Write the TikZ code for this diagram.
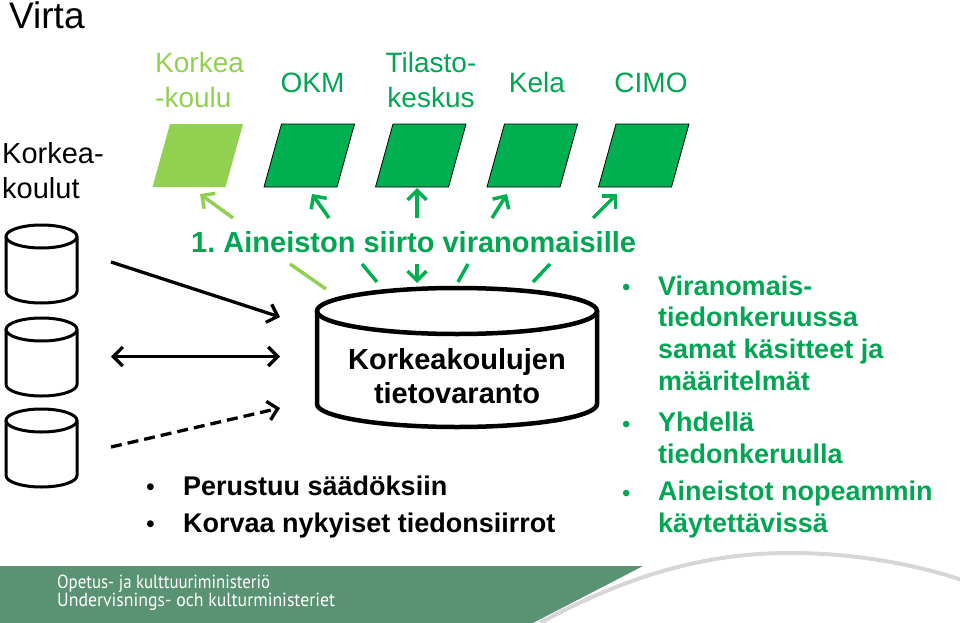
\documentclass[tikz,border=0pt]{standalone}
\usepackage{fontspec}
\setmainfont{Liberation Sans}
\newfontfamily\footfont{PT Sans}
\usetikzlibrary{arrows.meta}
\definecolor{lgreen}{RGB}{146,208,80}
\definecolor{dgreen}{RGB}{0,176,80}
\definecolor{tgreen}{RGB}{0,166,81}
\definecolor{footgreen}{RGB}{90,146,116}
\frenchspacing
\begin{document}
\begin{tikzpicture}[x=1pt,y=-1pt,
  txt/.style={inner sep=0pt, anchor=base west, align=left},
  ctxt/.style={inner sep=0pt, anchor=base, align=center},
  lbl/.style={font=\fontsize{28}{35}\selectfont, text=tgreen},
  bigbold/.style={font=\fontsize{27}{31.6}\selectfont\bfseries},
  para/.style={fill=dgreen, draw=black, line width=0.8pt, line join=miter},
  barb/.style={-{Straight Barb[length=9.5pt,width=19pt]}},
  garrow/.style={draw=dgreen, line width=3.5pt, barb},
  gline/.style={draw=dgreen, line width=3.5pt},
  karrow/.style={draw=black, line width=3.3pt},
  cyl/.style={draw=black, line width=3pt},
]
\useasboundingbox (0,0) rectangle (960,623);

% title and side label (base anchor = last line's baseline)
\node[txt, font=\fontsize{37}{42}\selectfont] (title) at (9,29) {Virta};
\node[txt, font=\fontsize{29}{35}\selectfont] (hei) at (2,198) {Korkea-\\koulut};

% column labels
\node[txt, lbl, text=lgreen] (lab1) at (155,108) {Korkea\\-koulu};
\node[ctxt, lbl] (lab2) at (312.5,93) {OKM};
\node[ctxt, lbl] (lab3) at (431,108) {Tilasto-\\keskus};
\node[ctxt, lbl] (lab4) at (537,93) {Kela};
\node[ctxt, lbl] (lab5) at (651,93) {CIMO};

% parallelograms
\fill[lgreen] (170,124) -- (243,124) -- (225.5,187) -- (152.5,187) -- cycle;
\foreach \i in {1,2,3,4}{
  \path[para] ({170+111.5*\i},124) -- ({243+111.5*\i},124) -- ({225.5+111.5*\i},187) -- ({152.5+111.5*\i},187) -- cycle;
}

% transfer text
\node[txt, font=\fontsize{29}{34}\selectfont\bfseries, text=tgreen] (transfer) at (191,252) {1. Aineiston siirto viranomaisille};

% arrow end points
\coordinate (u1s) at (233,218); \coordinate (u1e) at (200,194);
\coordinate (u2s) at (329,218); \coordinate (u2e) at (312,194);
\coordinate (u3s) at (417,218); \coordinate (u3e) at (417,188);
\coordinate (u4s) at (492,218); \coordinate (u4e) at (507,194);
\coordinate (u5s) at (593,218); \coordinate (u5e) at (617,194);
\coordinate (d1s) at (290,264); \coordinate (d1e) at (326,289);
\coordinate (d2s) at (362,264); \coordinate (d2e) at (377,282);
\coordinate (d3s) at (417,264); \coordinate (d3e) at (417,283);
\coordinate (d4s) at (468,264); \coordinate (d4e) at (458,282);
\coordinate (d5s) at (550,264); \coordinate (d5e) at (533,282);

\draw[garrow, draw=lgreen] (u1s) -- (u1e);
\draw[garrow] (u2s) -- (u2e);
\draw[garrow] (u3s) -- (u3e);
\draw[garrow] (u4s) -- (u4e);
\draw[garrow] (u5s) -- (u5e);
\draw[gline, draw=lgreen] (d1s) -- (d1e);
\draw[gline] (d2s) -- (d2e);
\draw[garrow] (d3s) -- (d3e);
\draw[gline] (d4s) -- (d4e);
\draw[gline] (d5s) -- (d5e);

% central cylinder
\draw[draw=black, line width=4.5pt] (317,311) -- (317,404) arc[start angle=180, end angle=0, x radius=140, y radius=23] -- (597,311);
\draw[draw=black, line width=4.5pt] (457,311) ellipse [x radius=140, y radius=23];
\node[ctxt, font=\fontsize{29}{34}\selectfont\bfseries] (store) at (457,403) {Korkeakoulujen\\tietovaranto};

% small cylinders
\foreach \t in {236.5,329.5,420.5}{
  \draw[cyl] (6,\t) -- (6,\t+55) arc[start angle=180, end angle=0, x radius=35.5, y radius=11.5] -- (77,\t);
  \draw[cyl] (41.5,\t) ellipse [x radius=35.5, y radius=11.5];
}

% black arrows
\coordinate (k1s) at (111,262); \coordinate (k1e) at (280,317);
\coordinate (k2s) at (111,356.5); \coordinate (k2e) at (280,356.5);
\coordinate (k3s) at (111,447); \coordinate (k3e) at (280,408);
\draw[karrow, barb] (k1s) -- (k1e);
\draw[karrow, {Straight Barb[length=9.5pt,width=19pt]}-{Straight Barb[length=9.5pt,width=19pt]}] (k2s) -- (k2e);
\draw[karrow, barb, dash pattern=on 11pt off 6pt] (k3s) -- (k3e);

% left bullets
\node[txt, font=\fontsize{25}{28}\selectfont] (lb1) at (146,495) {•};
\node[txt, bigbold] (lt1) at (183,495) {Perustuu säädöksiin};
\node[txt, font=\fontsize{25}{28}\selectfont] (lb2) at (146,532) {•};
\node[txt, bigbold] (lt2) at (183,532) {Korvaa nykyiset tiedonsiirrot};

% right bullets (bullets on first line, text anchored at last line)
\node[txt, font=\fontsize{24}{28}\selectfont, text=tgreen] (rb1) at (622,295) {•};
\node[txt, bigbold, text=tgreen] (rt1) at (658,390) {Viranomais-\\tiedonkeruussa\\samat käsitteet ja\\määritelmät};
\node[txt, font=\fontsize{24}{28}\selectfont, text=tgreen] (rb2) at (622,432) {•};
\node[txt, bigbold, text=tgreen] (rt2) at (658,463) {Yhdellä\\tiedonkeruulla};
\node[txt, font=\fontsize{24}{28}\selectfont, text=tgreen] (rb3) at (622,501) {•};
\node[txt, bigbold, text=tgreen] (rt3) at (658,532) {Aineistot nopeammin\\käytettävissä};

% footer
\fill[footgreen] (0,566) -- (643,566) -- (533,623) -- (0,623) -- cycle;
\draw[black!16, line width=4pt] (540,623) .. controls (640,568) and (720,553) .. (790,553) .. controls (860,553) and (920,566) .. (962,580);
\node[txt, text=white, font=\footfont\fontsize{19}{20}\selectfont] (f1) at (57,588) {\resizebox{213pt}{\height}{Opetus- ja kulttuuriministeriö}};
\node[txt, text=white, font=\footfont\fontsize{19}{20}\selectfont] (f2) at (57,606) {\resizebox{278pt}{\height}{Undervisnings- och kulturministeriet}};
\end{tikzpicture}
\end{document}
